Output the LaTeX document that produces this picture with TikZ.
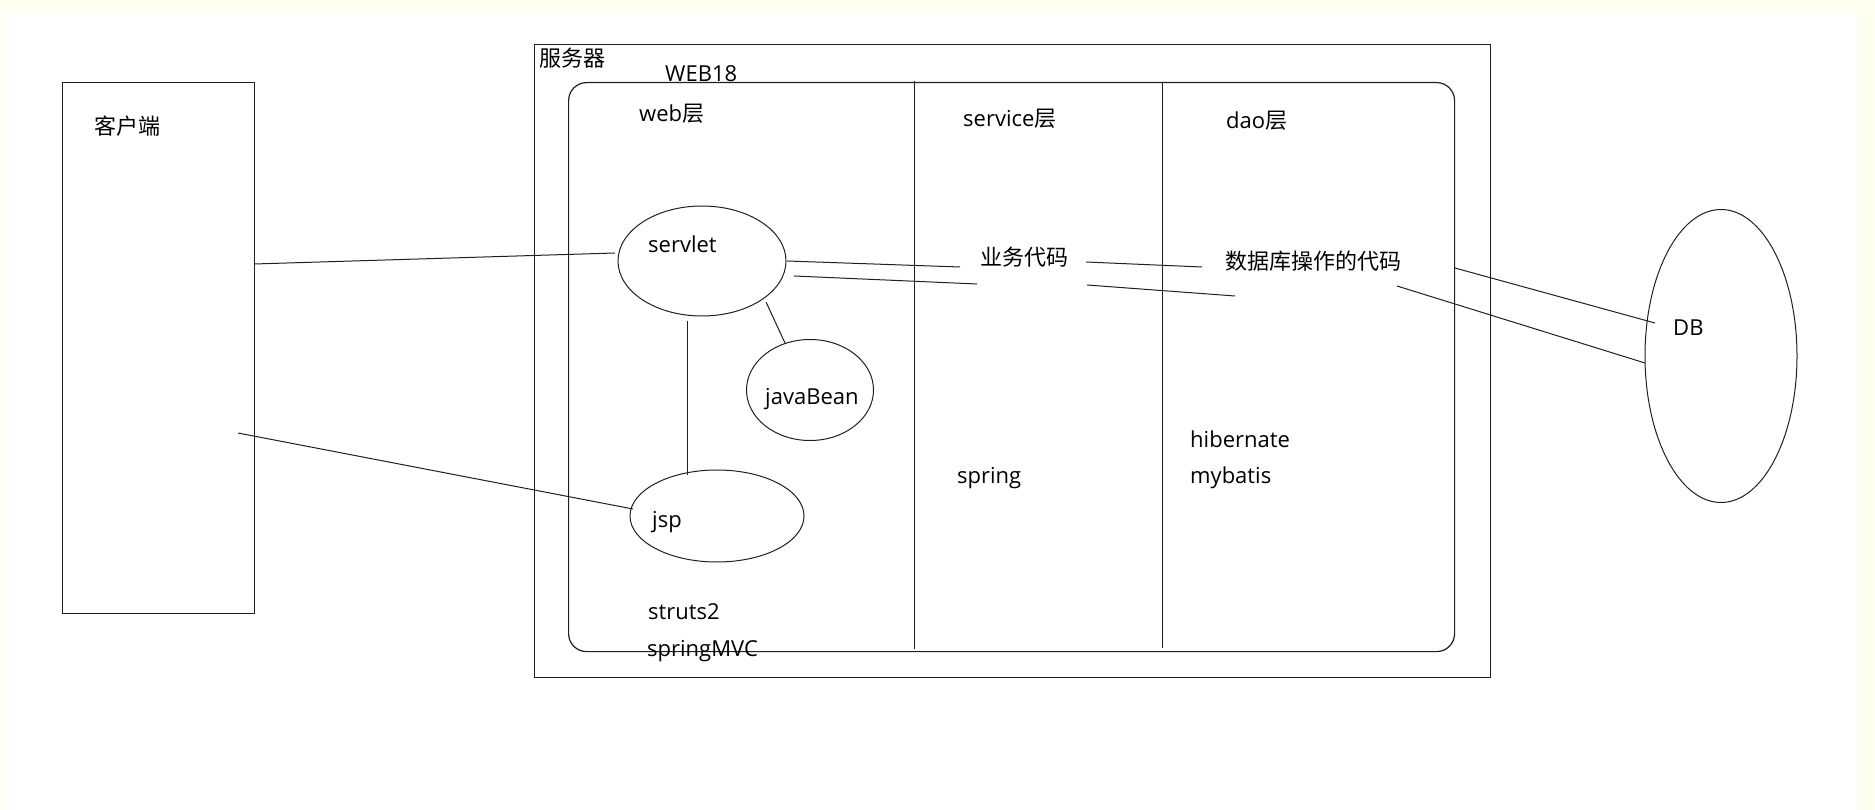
\documentclass[tikz,border=0pt]{standalone}
\usepackage{fontspec}
\setmainfont{Open Sans}
\newfontfamily\cjk{Noto Sans CJK SC}
\usetikzlibrary{shapes.geometric}
\definecolor{ivorybg}{RGB}{255,255,240}
\definecolor{pagewhite}{RGB}{255,255,255}
\definecolor{ink}{HTML}{202020}
\tikzset{
  lbl/.style={anchor=base west,inner sep=0pt,font=\fontsize{22}{26}\selectfont,text=black},
  oval/.style={draw=ink,line width=1pt,ellipse,inner sep=0pt},
  wire/.style={draw=ink,line width=1pt},
  frame/.style={draw=ink,line width=1.2pt}
}
\begin{document}
\begin{tikzpicture}[x=1pt,y=-1pt]
\useasboundingbox (0,0) rectangle (1875,810);
\fill[pagewhite] (2,13) rectangle (1858,810);
\fill[ivorybg] (0,0) rectangle (1875,13);
\fill[ivorybg] (0,13) rectangle (2,810);
\fill[ivorybg] (1858,13) rectangle (1875,810);

% client
\node[frame,rectangle,anchor=north west,minimum width=192pt,minimum height=531pt,inner sep=0pt] (client) at (62,82) {};
\node[lbl] (clientlbl) at (94,135) {\cjk 客户端};

% server
\node[frame,rectangle,anchor=north west,minimum width=956pt,minimum height=633pt,inner sep=0pt] (server) at (534,44) {};
\node[lbl] (serverlbl) at (539,67) {\cjk 服务器};
\node[lbl] (web18) at (665,82) {WEB18};
\node[frame,rectangle,rounded corners=18pt,fill=pagewhite,anchor=north west,minimum width=886pt,minimum height=569pt,inner sep=0pt] (app) at (568,82) {};

% layer separators
\coordinate (s1t) at (914,81); \coordinate (s1b) at (914,649);
\coordinate (s2t) at (1162,82); \coordinate (s2b) at (1162,648);
\draw[wire] (s1t) -- (s1b);
\draw[wire] (s2t) -- (s2b);

% layer titles
\node[lbl] (weblbl) at (639,122) {web{\cjk 层}};
\node[lbl] (servicelbl) at (963,127) {service{\cjk 层}};
\node[lbl] (daolbl) at (1226,129) {dao{\cjk 层}};

% ellipses
\node[oval,minimum width=168pt,minimum height=110pt] (servlet) at (702,261) {};
\node[oval,minimum width=127pt,minimum height=101pt] (javabean) at (810,390) {};
\node[oval,minimum width=174pt,minimum height=92pt] (jsp) at (717,516) {};
\node[oval,minimum width=152pt,minimum height=293pt] (db) at (1721,356) {};

\node[lbl] (servletlbl) at (648,253) {servlet};
\node[lbl] (javabeanlbl) at (765,405) {javaBean};
\node[lbl] (jsplbl) at (652,527) {jsp};
\node[lbl] (dblbl) at (1673,336) {DB};

% other texts
\node[lbl] (biz) at (980,266) {\cjk 业务代码};
\node[lbl] (dbcode) at (1225,270) {\cjk 数据库操作的代码};
\node[lbl] (struts) at (648,619) {struts2};
\node[lbl] (spring) at (957,483) {spring};
\node[lbl] (hib) at (1190,447) {hibernate};
\node[lbl] (myb) at (1190,483) {mybatis};

% connectors
\coordinate (c1a) at (254,264); \coordinate (c1b) at (615,253);
\draw[wire] (c1a) -- (c1b);
\coordinate (c2a) at (238,433); \coordinate (c2b) at (633,509);
\draw[wire] (c2a) -- (c2b);
\coordinate (sja) at (687,321); \coordinate (sjb) at (687,475);
\draw[wire] (sja) -- (sjb);
\coordinate (sba) at (766,302); \coordinate (sbb) at (785,343);
\draw[wire] (sba) -- (sbb);
\coordinate (b1a) at (787,261); \coordinate (b1b) at (960,267);
\draw[wire] (b1a) -- (b1b);
\coordinate (b2a) at (794,276); \coordinate (b2b) at (977,284);
\draw[wire] (b2a) -- (b2b);
\coordinate (d1a) at (1086,262); \coordinate (d1b) at (1202,267);
\draw[wire] (d1a) -- (d1b);
\coordinate (d2a) at (1087,285); \coordinate (d2b) at (1235,296);
\draw[wire] (d2a) -- (d2b);
\coordinate (e1a) at (1455,268); \coordinate (e1b) at (1655,323);
\draw[wire] (e1a) -- (e1b);
\coordinate (e2a) at (1397,286); \coordinate (e2b) at (1645,363);
\draw[wire] (e2a) -- (e2b);

\node[lbl] (mvc) at (647,656) {springMVC};
\end{tikzpicture}
\end{document}
